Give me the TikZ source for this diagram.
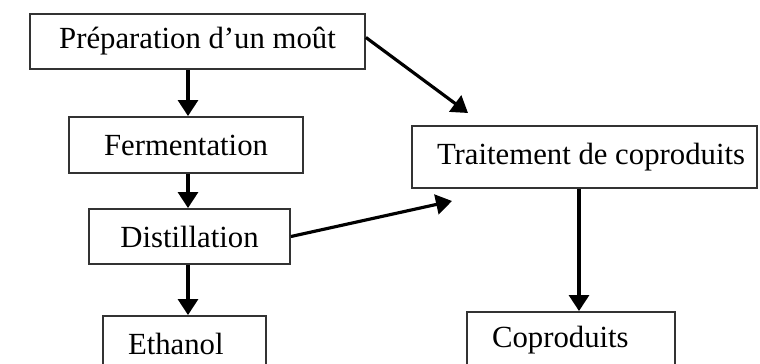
\documentclass[tikz,border=0pt]{standalone}
\usepackage{fontspec}
\setmainfont{Liberation Serif}
\usetikzlibrary{arrows.meta}

\begin{document}
\begin{tikzpicture}[x=0.02cm,y=-0.02cm,
		etape/.style={draw=black!80,line width=1.1pt,rectangle,inner sep=0pt,
			font=\fontsize{17.5}{20}\selectfont,fill=white},
		fleche/.style={line width=1.8pt,-{Triangle[length=0.32cm,width=0.4cm]}}]
		\useasboundingbox[fill=white] (0,0) rectangle (760,364);
		% left column
		\node[etape,minimum width=6.7cm,minimum height=1.1cm] (prep) at (197.5,41.5) {Préparation d’un moût};
		\node[etape,minimum width=4.68cm,minimum height=1.12cm] (ferm) at (186,145) {Fermentation};
		\node[etape,minimum width=4.02cm,minimum height=1.1cm] (dist) at (189.5,236.5) {Distillation};
		\node[etape,minimum height=1.1cm,inner xsep=0.5cm] (eth) at (184.5,343.5) {\makebox[2.26cm][l]{Ethanol}};
		\coordinate (col) at (188,0);

		% right column
		\node[etape,minimum height=1.24cm,inner xsep=0.5cm] (trait) at (584.5,157) {\makebox[5.9cm][l]{Traitement de coproduits}};
		\node[etape,minimum height=1.12cm,inner xsep=0.5cm] (copro) at (571,340) {\makebox[3.16cm][l]{Coproduits}};
		\coordinate (t1) at (468,113);
		\coordinate (t2) at (452,201);

		\draw[fleche] (prep.south -| col) -- (ferm.north -| col);
		\draw[fleche] (ferm.south -| col) -- (dist.north -| col);
		\draw[fleche] (dist.south -| col) -- (eth.north -| col);
		\draw[fleche] ([yshift=0.08cm]prep.east) -- (t1);
		\draw[fleche] (dist.east) -- (t2);
		\draw[fleche] ([xshift=-0.11cm]trait.south) -- ([xshift=-0.11cm]trait.south |- copro.north);
	\end{tikzpicture}
\end{document}
